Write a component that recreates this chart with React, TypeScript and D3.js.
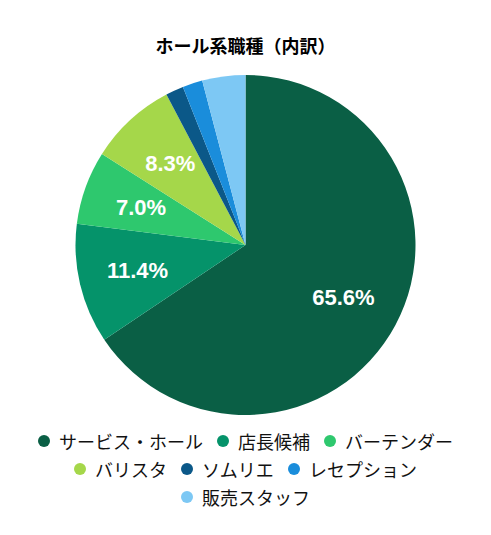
import React from "react";
import * as d3 from "d3";

const categories = ["サービス・ホール", "店長候補", "バーテンダー", "バリスタ", "ソムリエ", "レセプション", "販売スタッフ"];
const values = [65.6, 11.4, 7.0, 8.3, 1.7, 1.9, 4.1];
const colors = ["#0a5f45", "#05936a", "#2ec86e", "#a5d74a", "#0b5888", "#1a8ddb", "#7dc8f4"];
const title = "ホール系職種（内訳）";
const labelMin = 5;

const W = 491;
const H = 535;
const cx = 245.5;
const cy = 245;
const R = 170;

function measure(text: string, font: string): number {
  if (typeof document === "undefined") return text.length * 18;
  const c = document.createElement("canvas");
  const ctx = c.getContext("2d");
  if (!ctx) return text.length * 18;
  ctx.font = font;
  return ctx.measureText(text).width;
}

export default function App() {
  const pie = d3.pie<number>().sort(null).value((d) => d);
  const arcs = pie(values);
  const arc = d3.arc<d3.PieArcDatum<number>>().innerRadius(0).outerRadius(R);
  const total = d3.sum(values);

  const legendSize = 18;
  const legendFont = `${legendSize}px 'Noto Sans CJK JP', sans-serif`;
  const dotR = 6;
  const textOffset = 21;
  const itemGap = 14;
  const maxRow = 450;
  const items = categories.map((c, i) => ({ c, i, w: textOffset + measure(c, legendFont) }));
  const rows: { c: string; i: number; w: number }[][] = [];
  let cur: { c: string; i: number; w: number }[] = [];
  let curW = 0;
  items.forEach((it) => {
    const add = cur.length ? itemGap + it.w : it.w;
    if (cur.length && curW + add > maxRow) {
      rows.push(cur);
      cur = [it];
      curW = it.w;
    } else {
      cur.push(it);
      curW += add;
    }
  });
  if (cur.length) rows.push(cur);
  const rowY = [441, 469, 497];

  return (
    <svg width={W} height={H} style={{ display: "block", position: "absolute", left: 0, top: 0 }}>
      <rect width={W} height={H} fill="#ffffff" />
      <text
        x={cx}
        y={45}
        textAnchor="middle"
        dominantBaseline="central"
        fontFamily="'Noto Sans CJK JP', sans-serif"
        fontWeight="bold"
        fontSize={18}
        fill="#000"
      >
        {title}
      </text>
      <g transform={`translate(${cx},${cy})`}>
        {arcs.map((a, i) => (
          <path key={i} d={arc(a) || ""} fill={colors[i]} />
        ))}
        {arcs.map((a, i) => {
          if ((a.data / total) * 100 < labelMin) return null;
          const mid = (a.startAngle + a.endAngle) / 2;
          const r = 111;
          const x = Math.sin(mid) * r;
          const y = -Math.cos(mid) * r;
          return (
            <text
              key={i}
              x={x}
              y={y}
              textAnchor="middle"
              dominantBaseline="central"
              fontFamily="'Liberation Sans', Arial, sans-serif"
              fontWeight="bold"
              fontSize={22}
              fill="#ffffff"
            >
              {a.data.toFixed(1)}%
            </text>
          );
        })}
      </g>
      <g>
        {rows.map((row, ri) => {
          const rw = d3.sum(row, (d) => d.w) + itemGap * (row.length - 1);
          let x = cx - rw / 2;
          return row.map((it) => {
            const x0 = x;
            x += it.w + itemGap;
            return (
              <g key={it.i}>
                <circle cx={x0 + dotR} cy={rowY[ri]} r={dotR} fill={colors[it.i]} />
                <text
                  x={x0 + textOffset}
                  y={rowY[ri]}
                  dominantBaseline="central"
                  fontFamily="'Noto Sans CJK JP', sans-serif"
                  fontSize={legendSize}
                  fill="#111"
                >
                  {it.c}
                </text>
              </g>
            );
          });
        })}
      </g>
    </svg>
  );
}
